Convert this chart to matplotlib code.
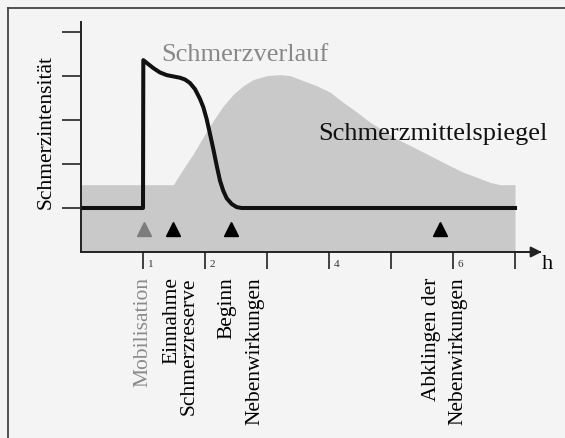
import matplotlib
matplotlib.use("Agg")
import matplotlib.pyplot as plt
from matplotlib.lines import Line2D

plt.rcParams['font.family'] = ['Liberation Serif', 'DejaVu Serif']

# Schmerzmittelspiegel (grey area), hours / intensity
level_x = [0.0, 1.49, 1.65, 1.81, 1.97, 2.13, 2.30, 2.46, 2.62, 2.78, 3.00, 3.21,
           3.37, 3.59, 3.80, 4.02, 4.23, 4.45, 4.66, 4.88, 5.09, 5.31, 5.52,
           5.74, 5.95, 6.17, 6.38, 6.60, 6.76, 7.0]
level_y = [1.53, 1.53, 1.89, 2.23, 2.61, 2.98, 3.33, 3.59, 3.78, 3.92, 4.01, 4.03,
           4.01, 3.89, 3.78, 3.63, 3.40, 3.18, 2.95, 2.76, 2.57, 2.42, 2.27,
           2.11, 1.96, 1.81, 1.70, 1.58, 1.53, 1.53]

# Schmerzverlauf (black line)
pain_x = [0.0, 1.0, 1.005, 1.085, 1.166, 1.274, 1.382, 1.489, 1.597, 1.677, 1.758,
          1.839, 1.919, 1.973, 2.027, 2.081, 2.134, 2.189, 2.242, 2.295, 2.350,
          2.431, 2.511, 2.592, 7.0]
pain_y = [1.0, 1.0, 4.36, 4.27, 4.18, 4.08, 4.02, 3.99, 3.96, 3.92, 3.84,
          3.70, 3.48, 3.29, 3.02, 2.68, 2.34, 1.96, 1.62, 1.39, 1.22,
          1.09, 1.02, 1.0, 1.0]

# event markers
event_x = [1.02, 1.48, 2.42, 5.79]
event_colors = ['#7d7d7d', 'black', 'black', 'black']

x_ticks = [1, 2, 3, 4, 5, 6, 7]
x_tick_labels = ['1', '2', '', '4', '', '6', '']
y_ticks = [1, 2, 3, 4, 5]

# event labels
label_texts = ['Mobilisation', 'Einnahme\nSchmerzreserve', 'Beginn',
               'Nebenwirkungen', 'Abklingen der', 'Nebenwirkungen']
label_x = [1.0, 1.60, 2.35, 2.80, 5.66, 6.08]
label_colors = ['#8a8a8a', 'black', 'black', 'black', 'black', 'black']

fig = plt.figure(figsize=(5.65, 4.39), dpi=100, facecolor='#f4f4f4')
ax = fig.add_axes([81 / 565, 1 - 253 / 439, 459 / 565, 230 / 439])
ax.set_facecolor('none')
ax.set_xlim(0, 7.403)
ax.set_ylim(0, 5.227)

ax.fill_between(level_x, 0, level_y, color='#c9c9c9', lw=0, zorder=1)
ax.plot(pain_x, pain_y, color='#111111', lw=2.9, solid_joinstyle='round', zorder=3)
for ex, ec in zip(event_x, event_colors):
    ax.plot(ex, 0.52, marker='^', color=ec, markersize=10, ls='none', zorder=4)

for s in ['top', 'right']:
    ax.spines[s].set_visible(False)
for s in ['left', 'bottom']:
    ax.spines[s].set_linewidth(1.4)
    ax.spines[s].set_color('#222222')
    ax.spines[s].set_zorder(5)

ax.set_xticks(x_ticks)
ax.set_xticklabels([])
ax.set_yticks(y_ticks)
ax.set_yticklabels([])
ax.tick_params(axis='x', direction='out', length=12, width=1.2, color='#222222')
ax.tick_params(axis='y', direction='out', length=13.5, width=1.2, color='#222222')

for t, lab in zip(x_ticks, x_tick_labels):
    ax.text(t + 0.08, -0.27, lab, fontsize=8, ha='left', va='center',
            color='#333333', clip_on=False)

# arrow head on the time axis
ax.annotate('', xy=(7.43, 0), xytext=(7.0, 0), xycoords='data',
            arrowprops=dict(arrowstyle='-|>', color='#222222', lw=1.4,
                            mutation_scale=16, shrinkA=0, shrinkB=0),
            annotation_clip=False)
ax.text(7.52, -0.26, 'h', fontsize=16, ha='center', va='center', clip_on=False)

ax.text(-0.565, 2.75, 'Schmerzintensität', rotation=90, fontsize=15.5,
        ha='center', va='center', clip_on=False)
ax.text(1.29, 4.36, 'Schmerzverlauf', fontsize=19, color='#888888',
        ha='left', va='baseline')
ax.text(3.82, 2.57, 'Schmerzmittelspiegel', fontsize=19, color='#111111',
        ha='left', va='baseline', zorder=6)

for txt, lx, lc in zip(label_texts, label_x, label_colors):
    ax.text(lx, -0.55, txt, rotation=90, fontsize=15.5, color=lc,
            ha='center', va='top', multialignment='right', linespacing=0.85,
            clip_on=False)

# outer frame (top and left only)
fig.add_artist(Line2D([8 / 565, 1.0], [1 - 9 / 439, 1 - 9 / 439],
                      transform=fig.transFigure, color='#444444', lw=1.3))
fig.add_artist(Line2D([8 / 565, 8 / 565], [0.0, 1 - 9 / 439],
                      transform=fig.transFigure, color='#444444', lw=1.3))

fig.savefig('out.png', dpi=100, facecolor=fig.get_facecolor())
